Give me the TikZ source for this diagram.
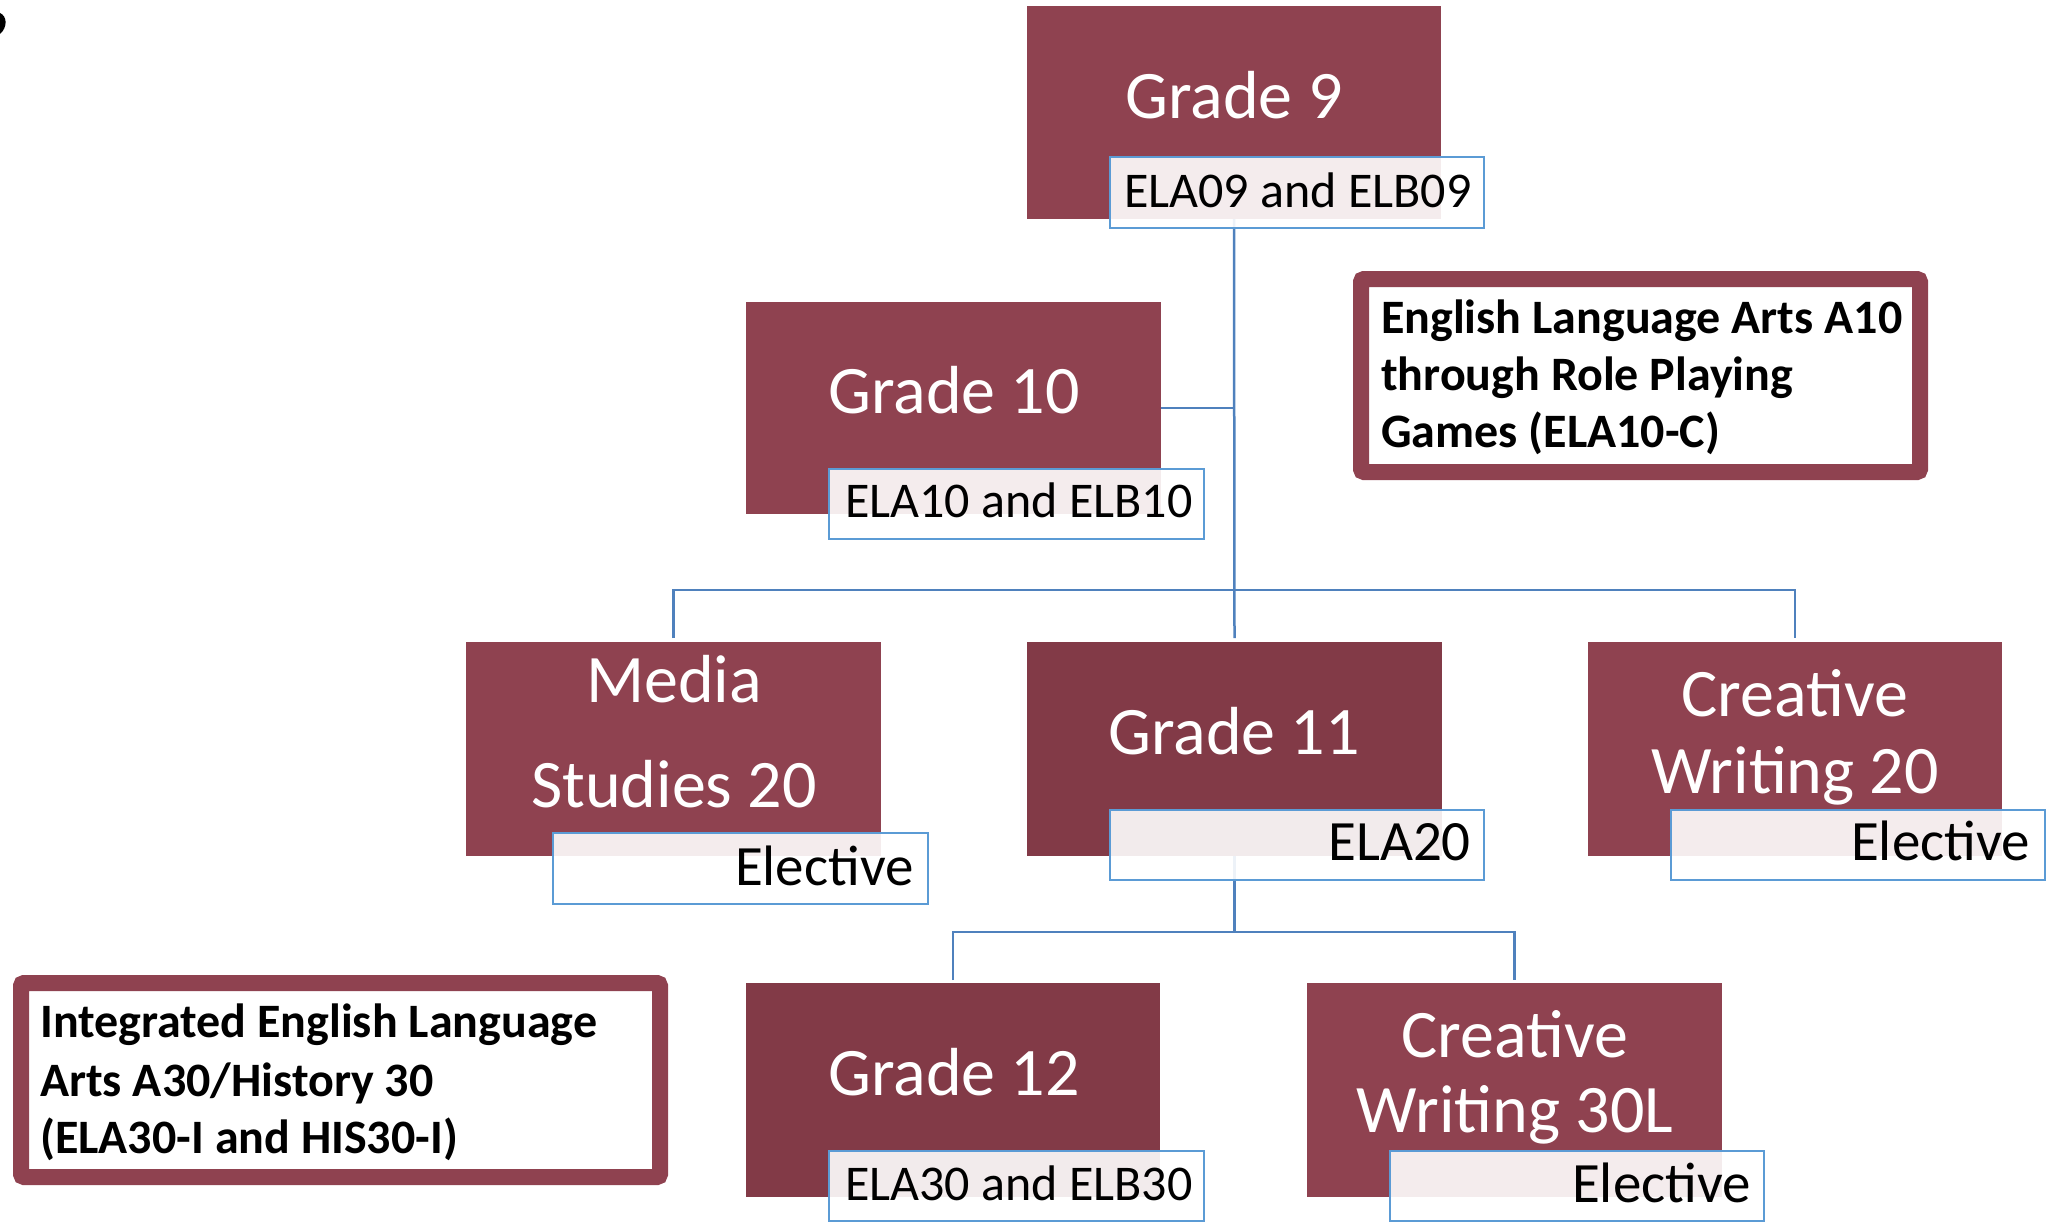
\documentclass[tikz,border=0pt]{standalone}
\usepackage{fontspec}
\setmainfont{Carlito}
\definecolor{boxred}{HTML}{8F4250}
\definecolor{boxdark}{HTML}{823A47}
\definecolor{lblue}{HTML}{5B9BD5}
\definecolor{cblue}{HTML}{4F81BD}
\tikzset{
  gbox/.style={fill=boxred, draw=none, inner sep=0pt, outer sep=0pt, anchor=north west},
  dbox/.style={gbox, fill=boxdark},
  lbox/.style={draw=lblue, line width=2.5pt, fill=white, fill opacity=0.9, inner sep=0pt, outer sep=0pt, anchor=north west},
  conn/.style={draw=cblue, line width=2.5pt},
  ttl/.style={text=white, font=\fontsize{68}{80}\selectfont, inner sep=0pt, anchor=base},
  lsmall/.style={text=black, font=\fontsize{50}{60}\selectfont, inner sep=0pt},
  lbig/.style={text=black, font=\fontsize{57}{68}\selectfont, inner sep=0pt, anchor=base east},
  callout/.style={draw=boxred, line width=16pt, fill=white, rounded corners=3pt, inner sep=0pt, outer sep=0pt, anchor=north west},
  ctext/.style={text=black, font=\bfseries\fontsize{48}{57}\selectfont, inner sep=0pt, anchor=base west}
}
\begin{document}
\begin{tikzpicture}[x=1pt,y=-1pt]
\useasboundingbox (0,0) rectangle (2051,1223);
% small artifact at top-left
\fill[black] (0,13) .. controls (7,16) and (8,27) .. (0,34) -- cycle;

% boxes
\node[gbox, minimum width=414, minimum height=213] (g9) at (1027,6) {};
\node[gbox, minimum width=415, minimum height=212] (g10) at (746,302) {};
\node[gbox, minimum width=415, minimum height=214] (ms) at (466,642) {};
\node[dbox, minimum width=415, minimum height=214] (g11) at (1027,642) {};
\node[gbox, minimum width=414, minimum height=214] (cw20) at (1588,642) {};
\node[dbox, minimum width=414, minimum height=214] (g12) at (746,983) {};
\node[gbox, minimum width=415, minimum height=214] (cw30) at (1307,983) {};

% connectors
\coordinate (bus1) at (1234.5,590);
\coordinate (bus2) at (1234.5,932);
\draw[conn] (g9.south) -- ([yshift=4pt]g11.north);
\draw[conn] (g10.east) -- (g10.east -| g9.south);
\draw[conn] ([yshift=4pt]ms.north) |- (bus1) -| ([yshift=4pt]cw20.north);
\draw[conn] (g11.south) -- (bus2);
\draw[conn] ([yshift=3pt]g12.north) |- (bus2) -| ([yshift=3pt]cw30.north);

% redraw boxes on top of connectors
\fill[boxred] (g9.north west) rectangle (g9.south east);
\fill[boxred] (g10.north west) rectangle (g10.south east);
\fill[boxred] (ms.north west) rectangle (ms.south east);
\fill[boxdark] (g11.north west) rectangle (g11.south east);
\fill[boxred] (cw20.north west) rectangle (cw20.south east);
\fill[boxdark] (g12.north west) rectangle (g12.south east);
\fill[boxred] (cw30.north west) rectangle (cw30.south east);

% titles
\node[ttl] (t9) at (1234,118) {Grade 9};
\node[ttl] (t10) at (954,413) {Grade 10};
\node[ttl] (tms1) at (674,702) {Media};
\node[ttl] (tms2) at (674,807) {Studies 20};
\node[ttl] (t11) at (1234,754) {Grade 11};
\node[ttl] (tcw1) at (1795,716) {Creative};
\node[ttl] (tcw2) at (1795,793) {Writing 20};
\node[ttl] (t12) at (954,1095) {Grade 12};
\node[ttl] (tcx1) at (1515,1057) {Creative};
\node[ttl] (tcx2) at (1515,1132) {Writing 30L};

% label boxes
\node[lbox, minimum width=374, minimum height=71] (l9) at (1110,157) {};
\node[lbox, minimum width=375, minimum height=70] (l10) at (829,469) {};
\node[lbox, minimum width=375, minimum height=71] (lms) at (553,833) {};
\node[lbox, minimum width=374, minimum height=70] (l11) at (1110,810) {};
\node[lbox, minimum width=374, minimum height=70] (lcw) at (1671,810) {};
\node[lbox, minimum width=375, minimum height=70] (l12) at (829,1151) {};
\node[lbox, minimum width=374, minimum height=70] (lcx) at (1390,1151) {};

% label texts
\node[lsmall, anchor=base west] (x9) at (1124,207) {ELA09 and ELB09};
\node[lsmall, anchor=base west] (x10) at (845,517) {ELA10 and ELB10};
\node[lsmall, anchor=base west] (x12) at (845,1200) {ELA30 and ELB30};
\node[lbig] (xms) at (914,885) {Elective};
\node[lbig] (x11) at (1471,860) {ELA20};
\node[lbig] (xcw) at (2030,860) {Elective};
\node[lbig] (xcx) at (1751,1202) {Elective};

% callouts
\node[callout, minimum width=559, minimum height=193] (c1) at (1361,279) {};
\node[ctext] (c1a) at (1381,333) {English Language Arts A10};
\node[ctext] (c1b) at (1381,390) {through Role Playing};
\node[ctext] (c1c) at (1381,447) {Games (ELA10-C)};

\node[callout, minimum width=639, minimum height=194] (c2) at (21,983) {};
\node[ctext] (c2a) at (40,1037) {Integrated English Language};
\node[ctext] (c2b) at (40,1096) {Arts A30/History 30};
\node[ctext] (c2c) at (40,1153) {(ELA30-I and HIS30-I)};
\end{tikzpicture}
\end{document}
